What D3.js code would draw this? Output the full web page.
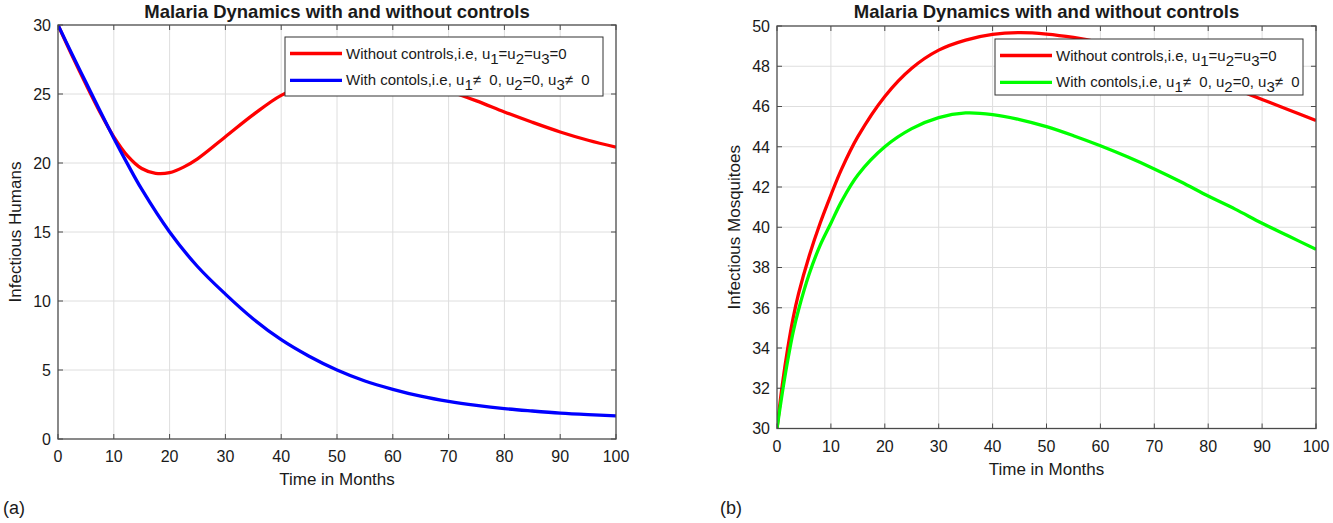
<!DOCTYPE html>
<html>
<head>
<meta charset="utf-8">
<script src="https://cdn.jsdelivr.net/npm/d3@7"></script>
<style>
  body { margin: 0; background: #fff; }
  svg { display: block; }
  text { font-family: "Liberation Sans", Arial, sans-serif; fill: #1a1a1a; }
</style>
</head>
<body>
<script>
// ---- data ----
const xTicks = [0, 10, 20, 30, 40, 50, 60, 70, 80, 90, 100];
const yTicksA = [0, 5, 10, 15, 20, 25, 30];
const yTicksB = [30, 32, 34, 36, 38, 40, 42, 44, 46, 48, 50];

// (a) infectious humans
const timeA = [0, 2.5, 5, 7.5, 10, 12.5, 15, 17.5, 20, 22.5, 25, 30, 35, 40, 45, 50, 55, 60, 65, 70, 75, 80, 85, 90, 95, 100];
const humansNoCtrl = [30, 27.8, 25.7, 23.7, 21.9, 20.5, 19.6, 19.25, 19.3, 19.7, 20.3, 21.9, 23.5, 24.9, 25.7, 26.15, 26.3, 26.15, 25.75, 25.2, 24.5, 23.7, 22.95, 22.25, 21.65, 21.15];
const timeA2 = [0, 2.5, 5, 7.5, 10, 12.5, 15, 20, 25, 30, 35, 40, 45, 50, 55, 60, 65, 70, 75, 80, 85, 90, 95, 100];
const humansCtrl = [30, 27.9, 25.85, 23.8, 21.8, 19.9, 18.1, 15.0, 12.5, 10.5, 8.7, 7.2, 6.0, 5.0, 4.2, 3.6, 3.1, 2.72, 2.43, 2.2, 2.03, 1.88, 1.77, 1.68];

// (b) infectious mosquitoes
const timeB = [0, 1, 2, 3, 4, 6, 8, 10, 12, 15, 20, 25, 30, 35, 40, 45, 50, 55, 60, 65, 70, 75, 80, 85, 90, 95, 100];
const mosqNoCtrl = [30, 32.2, 34.0, 35.5, 36.7, 38.6, 40.2, 41.6, 42.9, 44.5, 46.5, 47.9, 48.8, 49.3, 49.58, 49.67, 49.6, 49.43, 49.18, 48.85, 48.42, 47.92, 47.4, 46.88, 46.35, 45.83, 45.3];
const mosqCtrl = [30, 31.8, 33.4, 34.8, 35.9, 37.7, 39.1, 40.2, 41.3, 42.6, 44.0, 44.9, 45.45, 45.68, 45.6, 45.35, 45.0, 44.55, 44.05, 43.5, 42.9, 42.25, 41.55, 40.9, 40.2, 39.55, 38.9];

const title = "Malaria Dynamics with and without controls";

const W = 1333, H = 523;
const svg = d3.select("body").append("svg").attr("width", W).attr("height", H);

function drawPanel(o) {
  const x = d3.scaleLinear().domain([0, 100]).range([o.left, o.right]);
  const y = d3.scaleLinear().domain(o.yDomain).range([o.bottom, o.top]);
  const g = svg.append("g");

  // grid
  g.append("g").selectAll("line").data(xTicks.slice(1, -1)).join("line")
    .attr("x1", d => x(d)).attr("x2", d => x(d))
    .attr("y1", o.top).attr("y2", o.bottom)
    .attr("stroke", "#dedede").attr("stroke-width", 1);
  g.append("g").selectAll("line").data(o.yTicks.slice(1, -1)).join("line")
    .attr("x1", o.left).attr("x2", o.right)
    .attr("y1", d => y(d)).attr("y2", d => y(d))
    .attr("stroke", "#dedede").attr("stroke-width", 1);

  // curves
  const clipId = "clip" + o.id;
  svg.append("clipPath").attr("id", clipId).append("rect")
    .attr("x", o.left).attr("y", o.top)
    .attr("width", o.right - o.left).attr("height", o.bottom - o.top);
  const line = d3.line().x(d => x(d[0])).y(d => y(d[1])).curve(d3.curveCatmullRom.alpha(0.5));
  o.series.forEach(s => {
    g.append("path")
      .datum(s.t.map((t, i) => [t, s.v[i]]))
      .attr("clip-path", `url(#${clipId})`)
      .attr("fill", "none").attr("stroke", s.color)
      .attr("stroke-width", 3.3).attr("stroke-linejoin", "round")
      .attr("d", line);
  });

  // axes (box, ticks inward on all sides)
  const axisColor = "#4a4a4a";
  const tl = 5;
  g.append("rect").attr("x", o.left).attr("y", o.top)
    .attr("width", o.right - o.left).attr("height", o.bottom - o.top)
    .attr("fill", "none").attr("stroke", axisColor).attr("stroke-width", 1.3);
  xTicks.forEach(d => {
    g.append("line").attr("x1", x(d)).attr("x2", x(d)).attr("y1", o.bottom).attr("y2", o.bottom - tl).attr("stroke", axisColor);
    g.append("line").attr("x1", x(d)).attr("x2", x(d)).attr("y1", o.top).attr("y2", o.top + tl).attr("stroke", axisColor);
  });
  o.yTicks.forEach(d => {
    g.append("line").attr("x1", o.left).attr("x2", o.left + tl).attr("y1", y(d)).attr("y2", y(d)).attr("stroke", axisColor);
    g.append("line").attr("x1", o.right).attr("x2", o.right - tl).attr("y1", y(d)).attr("y2", y(d)).attr("stroke", axisColor);
  });

  g.append("g").selectAll("text").data(xTicks).join("text")
    .attr("x", d => x(d)).attr("y", o.bottom + 23)
    .attr("text-anchor", "middle").attr("font-size", 16)
    .text(d => d);
  g.append("g").selectAll("text").data(o.yTicks).join("text")
    .attr("x", o.left - 7).attr("y", d => y(d)).attr("dy", "0.36em")
    .attr("text-anchor", "end").attr("font-size", 16)
    .text(d => d);

  // labels
  g.append("text").attr("x", (o.left + o.right) / 2).attr("y", 18)
    .attr("text-anchor", "middle").attr("font-size", 18.5).attr("font-weight", "bold")
    .text(title);
  g.append("text").attr("x", (o.left + o.right) / 2).attr("y", o.bottom + 46)
    .attr("text-anchor", "middle").attr("font-size", 17)
    .text("Time in Months");
  g.append("text")
    .attr("transform", `translate(${o.ylabX},${(o.top + o.bottom) / 2}) rotate(-90)`)
    .attr("text-anchor", "middle").attr("font-size", 17)
    .text(o.ylabel);
  g.append("text").attr("x", o.tagX).attr("y", 514)
    .attr("font-family", "'Liberation Serif', 'Times New Roman', serif")
    .attr("font-size", 18).text(o.tag);

  // legend
  const L = o.legend;
  const lg = g.append("g");
  lg.append("rect").attr("x", L.x).attr("y", L.y).attr("width", L.w).attr("height", L.h)
    .attr("fill", "#fff").attr("stroke", "#333").attr("stroke-width", 1);
  const rows = [
    [["Without controls,i.e, u", 0], ["1", 1], ["=u", 0], ["2", 1], ["=u", 0], ["3", 1], ["=0", 0]],
    [["With contols,i.e, u", 0], ["1", 1], ["\u2260  0, u", 0], ["2", 1], ["=0, u", 0], ["3", 1], ["\u2260  0", 0]]
  ];
  rows.forEach((parts, i) => {
    const ry = L.y + 16.5 + i * 26.8;
    lg.append("line").attr("x1", L.x + 5).attr("x2", L.x + 57)
      .attr("y1", ry).attr("y2", ry)
      .attr("stroke", o.series[i].color).attr("stroke-width", 3.3);
    const t = lg.append("text").attr("x", L.x + 61).attr("y", ry + 5)
      .attr("font-size", 15).attr("xml:space", "preserve");
    let low = 0;
    parts.forEach(([s, sub]) => {
      const dy = sub === low ? 0 : (sub ? 5 : -5);
      low = sub;
      t.append("tspan").attr("dy", dy).text(s);
    });
  });
}

drawPanel({
  id: "a", left: 58, right: 616, top: 25, bottom: 439,
  yDomain: [0, 30], yTicks: yTicksA,
  ylabel: "Infectious Humans", ylabX: 21, tag: "(a)", tagX: 3,
  series: [
    { t: timeA, v: humansNoCtrl, color: "#ff0000" },
    { t: timeA2, v: humansCtrl, color: "#0000ff" }
  ],
  legend: { x: 285, y: 37, w: 318, h: 59 }
});

drawPanel({
  id: "b", left: 777, right: 1316, top: 26, bottom: 428.5,
  yDomain: [30, 50], yTicks: yTicksB,
  ylabel: "Infectious Mosquitoes", ylabX: 740, tag: "(b)", tagX: 720,
  series: [
    { t: timeB, v: mosqNoCtrl, color: "#ff0000" },
    { t: timeB, v: mosqCtrl, color: "#00ff00" }
  ],
  legend: { x: 995, y: 39, w: 308, h: 56 }
});
</script>
</body>
</html>
